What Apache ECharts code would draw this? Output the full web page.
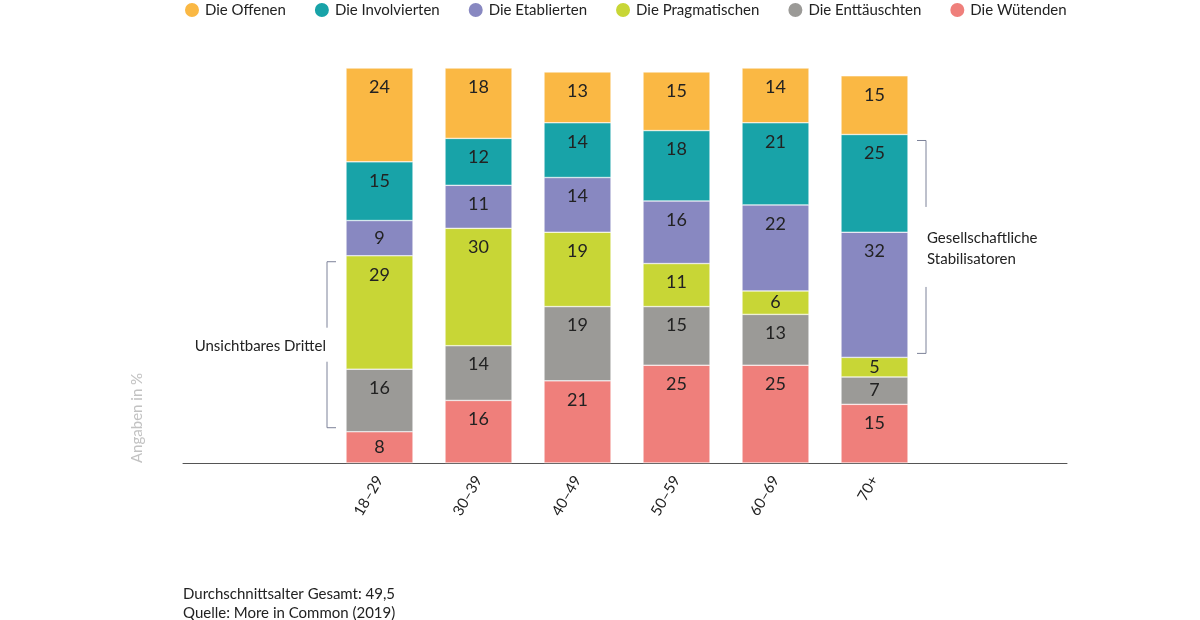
<!DOCTYPE html>
<html lang="de">
<head>
    <meta charset="UTF-8">
    <title>Typen nach Altersgruppen</title>
    <script src="https://cdn.jsdelivr.net/npm/echarts@6/dist/echarts.min.js"></script>
    <style>
        body {
            margin: 0;
            padding: 0;
            background-color: #fff;
        }

        #chart {
            width: 1200px;
            height: 620px;
        }
    </style>
</head>
<body>
    <div id="chart"></div>

    <script>
        // Altersgruppen
        const ages = ['18–29', '30–39', '40–49', '50–59', '60–69', '70+'];

        // Anteile je Typ (in %)
        const offenen = [24, 18, 13, 15, 14, 15];
        const involvierten = [15, 12, 14, 18, 21, 25];
        const etablierten = [9, 11, 14, 16, 22, 32];
        const pragmatischen = [29, 30, 19, 11, 6, 5];
        const enttaeuschten = [16, 14, 19, 15, 13, 7];
        const wuetenden = [8, 16, 21, 25, 25, 15];

        const font = 'Lato, "Open Sans", sans-serif';
        const barWidth = 67;

        // von unten nach oben gestapelt
        const stack = [
            { name: 'Die Wütenden', color: '#ef7f7b', data: wuetenden },
            { name: 'Die Enttäuschten', color: '#9b9a97', data: enttaeuschten },
            { name: 'Die Pragmatischen', color: '#c8d636', data: pragmatischen },
            { name: 'Die Etablierten', color: '#8888c1', data: etablierten },
            { name: 'Die Involvierten', color: '#18a3a8', data: involvierten },
            { name: 'Die Offenen', color: '#fab844', data: offenen }
        ];

        const chart = echarts.init(document.getElementById('chart'));

        const option = {
            animation: false,
            textStyle: { fontFamily: font },
            legend: {
                data: stack.map(s => s.name).reverse(),
                left: 183,
                top: 1,
                padding: 0,
                icon: 'circle',
                itemWidth: 16,
                itemHeight: 16,
                itemGap: 27,
                textStyle: { fontSize: 15, color: '#222', fontFamily: font }
            },
            grid: [
                { left: 330, right: 276, top: 68, bottom: 157 },
                // nur für die lange Grundlinie
                { left: 183, right: 133, top: 68, bottom: 157 }
            ],
            xAxis: [
                {
                    type: 'category',
                    data: ages,
                    gridIndex: 0,
                    axisLine: { show: false },
                    axisTick: { show: false },
                    axisLabel: {
                        rotate: 60,
                        margin: 14,
                        fontSize: 15,
                        color: '#222',
                        fontFamily: font
                    }
                },
                {
                    type: 'value',
                    gridIndex: 1,
                    axisLine: { show: true, lineStyle: { color: '#555', width: 1 } },
                    axisTick: { show: false },
                    axisLabel: { show: false },
                    splitLine: { show: false }
                }
            ],
            yAxis: [
                { type: 'value', gridIndex: 0, min: 0, max: 101, show: false },
                { type: 'value', gridIndex: 1, show: false }
            ],
            series: stack.map(s => ({
                name: s.name,
                type: 'bar',
                stack: 'total',
                barWidth: barWidth,
                itemStyle: { color: s.color, borderColor: '#fff', borderWidth: 0.5 },
                data: s.data.map(v => ({
                    value: v,
                    label: {
                        position: v < 10 ? 'inside' : 'insideTop',
                        distance: 10
                    }
                })),
                label: {
                    show: true,
                    fontSize: 18,
                    color: '#222',
                    fontFamily: font
                }
            }))
        };

        chart.setOption(option);

        // Klammern aus den Daten berechnen
        function px(i, v) {
            return chart.convertToPixel({ gridIndex: 0 }, [i, v]);
        }

        const bracketColor = '#7d8299';
        const graphics = [];

        function bracket(x, tickX, y1, y2, gapHalf) {
            const mid = (y1 + y2) / 2;
            graphics.push({
                type: 'polyline',
                shape: { points: [[tickX, y1], [x, y1], [x, mid - gapHalf]] },
                style: { stroke: bracketColor, fill: null, lineWidth: 1 }
            });
            graphics.push({
                type: 'polyline',
                shape: { points: [[x, mid + gapHalf], [x, y2], [tickX, y2]] },
                style: { stroke: bracketColor, fill: null, lineWidth: 1 }
            });
            return mid;
        }

        // Unsichtbares Drittel: Pragmatische + Enttäuschte, 18–29
        const lBottom = wuetenden[0];
        const lTop = wuetenden[0] + enttaeuschten[0] + pragmatischen[0];
        const lp1 = px(0, lTop);
        const lp2 = px(0, lBottom);
        const lLeft = lp1[0] - barWidth / 2;
        const lMid = bracket(lLeft - 19, lLeft - 10, lp1[1] + 6, lp2[1] - 4, 17);
        graphics.push({
            type: 'text',
            style: {
                text: 'Unsichtbares Drittel',
                x: lLeft - 20,
                y: lMid + 1,
                textAlign: 'right',
                textVerticalAlign: 'middle',
                font: '15px ' + font,
                fill: '#222'
            }
        });

        // Gesellschaftliche Stabilisatoren: Etablierte + Involvierte, 70+
        const r = ages.length - 1;
        const rBottom = wuetenden[r] + enttaeuschten[r] + pragmatischen[r];
        const rTop = rBottom + etablierten[r] + involvierten[r];
        const rp1 = px(r, rTop);
        const rp2 = px(r, rBottom);
        const rRight = rp1[0] + barWidth / 2;
        const rMid = bracket(rRight + 18, rRight + 9, rp1[1] + 6, rp2[1] - 4, 40);
        graphics.push({
            type: 'text',
            style: {
                text: 'Gesellschaftliche\nStabilisatoren',
                x: rRight + 19,
                y: rMid + 2,
                textAlign: 'left',
                textVerticalAlign: 'middle',
                font: '15px ' + font,
                lineHeight: 21,
                fill: '#222'
            }
        });

        // Achsenbeschriftung links
        const base = px(0, 0);
        graphics.push({
            type: 'text',
            rotation: Math.PI / 2,
            x: 137,
            y: base[1],
            style: {
                text: 'Angaben in %',
                textAlign: 'left',
                textVerticalAlign: 'middle',
                font: '15px ' + font,
                fill: '#c2c2c2'
            }
        });

        // Fußnote
        graphics.push({
            type: 'text',
            left: 183,
            top: 585,
            style: {
                text: 'Durchschnittsalter Gesamt: 49,5\nQuelle: More in Common (2019)',
                font: '15px ' + font,
                lineHeight: 19,
                fill: '#222'
            }
        });

        chart.setOption({ graphic: graphics });
    </script>
</body>
</html>
